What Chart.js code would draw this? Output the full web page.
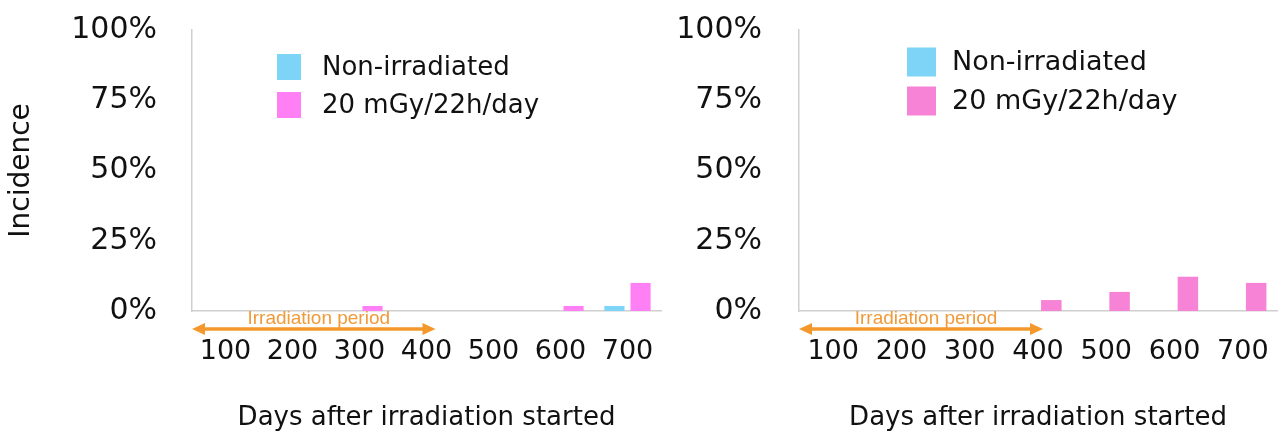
<!DOCTYPE html>
<html>
<head>
<meta charset="utf-8">
<script src="https://cdn.jsdelivr.net/npm/chart.js@4.4.1/dist/chart.umd.min.js"></script>
<style>
  html, body { margin: 0; padding: 0; background: #ffffff; }
  #wrap { position: relative; width: 1280px; height: 434px; overflow: hidden; }
  .panel { position: absolute; top: 0; height: 434px; }
  #leftPanel { left: 0; width: 670px; }
  #rightPanel { left: 670px; width: 610px; }
</style>
</head>
<body>
<div id="wrap">
  <div class="panel" id="leftPanel"><canvas id="chartLeft"></canvas></div>
  <div class="panel" id="rightPanel"><canvas id="chartRight"></canvas></div>
</div>
<script>
// Days after irradiation started (bin labels)
const dayLabels = ['100', '200', '300', '400', '500', '600', '700'];
const yTickValues = [0, 25, 50, 75, 100];

// Incidence (%) — left panel
const leftNonIrradiated = [0, 0, 0, 0, 0, 0, 1.8];
const leftIrradiated    = [0, 0, 1.8, 0, 0, 1.8, 10];

// Incidence (%) — right panel
const rightNonIrradiated = [0, 0, 0, 0, 0, 0, 0];
const rightIrradiated    = [0, 0, 0, 3.9, 6.8, 12.2, 10];

const seriesNames = ['Non-irradiated', '20 mGy/22h/day'];
const periodLabel = 'Irradiation period';
const periodEndIndex = 3; // irradiation lasted until day 400

const FONT = "'DejaVu Sans', sans-serif";
const AXIS_GREY = '#cfcfcf';
const ORANGE = '#f5982b';

// Legend drawn inside the plot area, as a list of coloured squares
const insideLegend = {
  id: 'insideLegend',
  afterDraw(chart, args, opts) {
    const ctx = chart.ctx;
    ctx.save();
    ctx.font = opts.fontSize + 'px ' + FONT;
    ctx.textBaseline = 'middle';
    ctx.textAlign = 'left';
    chart.data.datasets.forEach((ds, i) => {
      const y = opts.y + i * opts.rowGap;
      ctx.fillStyle = ds.backgroundColor;
      ctx.fillRect(opts.x, y - opts.box / 2, opts.boxW, opts.box);
      ctx.fillStyle = '#111111';
      ctx.fillText(ds.label, opts.textX, y + 1);
    });
    ctx.restore();
  }
};

// Double-headed arrow under the axis marking the irradiation period
const periodArrow = {
  id: 'periodArrow',
  afterDraw(chart, args, opts) {
    const ctx = chart.ctx;
    const xs = chart.scales.x;
    const area = chart.chartArea;
    const x0 = area.left;
    const x1 = xs.getPixelForTick(periodEndIndex) + opts.tipExtra;
    const y = area.bottom + 18;
    const head = 13, half = 6;
    ctx.save();
    ctx.strokeStyle = ORANGE;
    ctx.fillStyle = ORANGE;
    ctx.lineWidth = 3.5;
    ctx.beginPath();
    ctx.moveTo(x0 + head - 2, y);
    ctx.lineTo(x1 - head + 2, y);
    ctx.stroke();
    ctx.beginPath();
    ctx.moveTo(x0, y);
    ctx.lineTo(x0 + head, y - half);
    ctx.lineTo(x0 + head, y + half);
    ctx.closePath();
    ctx.fill();
    ctx.beginPath();
    ctx.moveTo(x1, y);
    ctx.lineTo(x1 - head, y - half);
    ctx.lineTo(x1 - head, y + half);
    ctx.closePath();
    ctx.fill();
    ctx.font = "19px 'Liberation Sans', Arial, sans-serif";
    ctx.textAlign = 'center';
    ctx.textBaseline = 'middle';
    ctx.fillStyle = '#f09a3a';
    ctx.fillText(periodLabel, (x0 + x1) / 2 + 5, area.bottom + 8);
    ctx.restore();
  }
};

function makeChart(canvasId, nonIrr, irr, cfg) {
  return new Chart(document.getElementById(canvasId), {
    type: 'bar',
    data: {
      labels: dayLabels,
      datasets: [
        { label: seriesNames[0], data: nonIrr, backgroundColor: cfg.blue,
          categoryPercentage: 0.78, barPercentage: 0.77, borderWidth: 0 },
        { label: seriesNames[1], data: irr, backgroundColor: cfg.pink,
          categoryPercentage: 0.78, barPercentage: 0.77, borderWidth: 0 }
      ]
    },
    options: {
      responsive: true,
      maintainAspectRatio: false,
      animation: false,
      layout: { padding: { top: 30, right: cfg.padRight, bottom: 0, left: 0 } },
      plugins: {
        legend: { display: false },
        tooltip: { enabled: false },
        insideLegend: cfg.legend,
        periodArrow: { tipExtra: cfg.tipExtra }
      },
      scales: {
        x: {
          grid: { display: false, drawTicks: false },
          border: { display: true, color: AXIS_GREY, width: 1.5 },
          ticks: { color: '#111111', font: { family: FONT, size: 27 }, padding: 25, maxRotation: 0, autoSkip: false },
          title: { display: true, text: 'Days after irradiation started', color: '#111111',
                   font: { family: FONT, size: 26, lineHeight: 1.2 }, padding: { top: 0, bottom: 0 } },
          afterFit(scale) { scale.height = 123; scale.paddingLeft = 0; scale.paddingRight = 0; }
        },
        y: {
          min: 0, max: 100,
          afterBuildTicks(scale) { scale.ticks = yTickValues.map(v => ({ value: v })); },
          grid: { display: false, drawTicks: false },
          border: { display: true, color: AXIS_GREY, width: 1.5 },
          ticks: { color: '#111111', font: { family: FONT, size: 30 }, padding: cfg.tickPad,
                   callback: v => v + '%' },
          title: { display: cfg.showYTitle, text: 'Incidence', color: '#111111',
                   font: { family: FONT, size: 28, lineHeight: 1.2 }, padding: { top: 5, bottom: 0 } },
          afterFit(scale) { scale.width = cfg.yWidth; scale.paddingTop = 0; scale.paddingBottom = 0; }
        }
      }
    },
    plugins: [insideLegend, periodArrow]
  });
}

makeChart('chartLeft', leftNonIrradiated, leftIrradiated, {
  blue: '#7dd4f7', pink: '#ff80f4',
  padRight: 9, yWidth: 192, tickPad: 35, showYTitle: true, tipExtra: 9,
  legend: { x: 277, boxW: 24, box: 26, y: 67, rowGap: 38, textX: 322, fontSize: 26 }
});

makeChart('chartRight', rightNonIrradiated, rightIrradiated, {
  blue: '#7dd4f7', pink: '#f783d6',
  padRight: 3, yWidth: 129, tickPad: 37, showYTitle: false, tipExtra: 5,
  legend: { x: 237, boxW: 29, box: 29, y: 62, rowGap: 39, textX: 282, fontSize: 27 }
});
</script>
</body>
</html>
